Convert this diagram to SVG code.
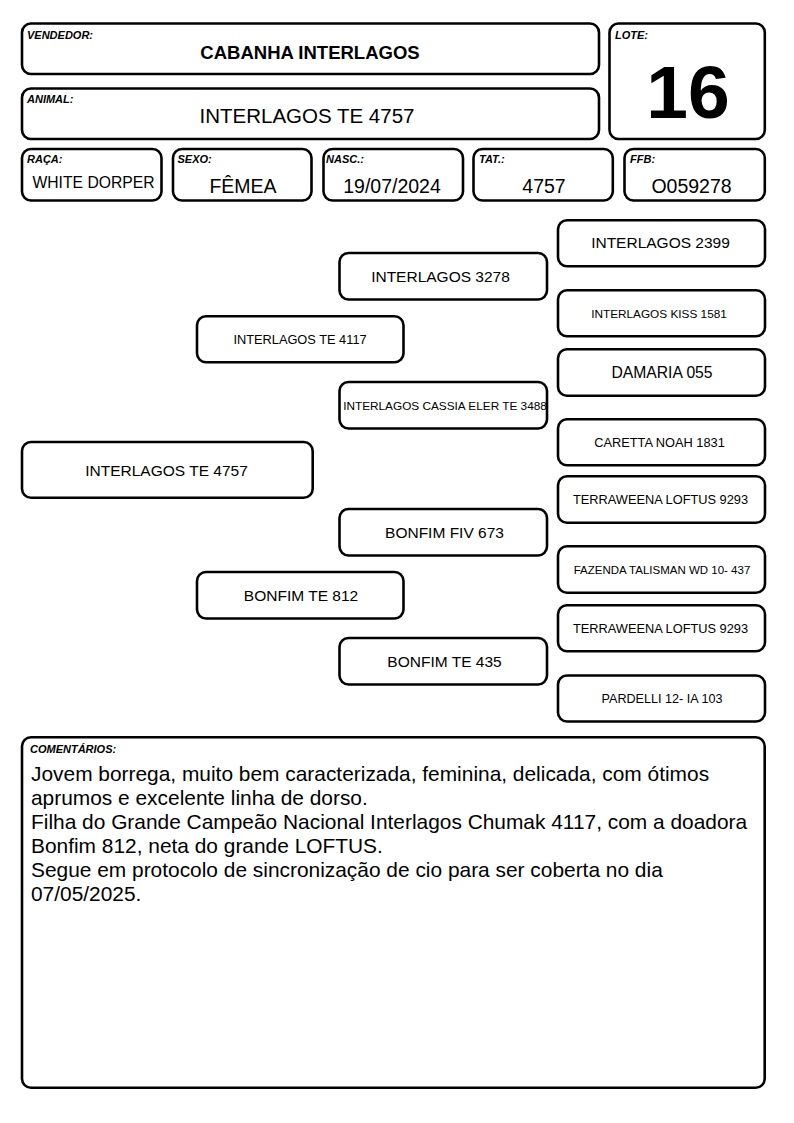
<svg xmlns="http://www.w3.org/2000/svg" width="794" height="1123" viewBox="0 0 794 1123">
<style>
rect.b{fill:#fff;stroke:#000;stroke-width:2.6}
text{font-family:"Liberation Sans",Arial,sans-serif;fill:#000}
.lbl{font-size:11px;font-weight:bold;font-style:italic}
.c{text-anchor:middle}
.val{font-size:19.5px}
.p16{font-size:15.5px}
.p13{font-size:12.8px}
.p12{font-size:11.8px}
.cm{font-size:20.9px}
</style>
<rect width="794" height="1123" fill="#fff"/>
<g id="vendedor"><rect class="b" x="22" y="23.5" width="577" height="50.5" rx="9"/><text class="lbl" x="27" y="39">VENDEDOR:</text><text class="c" x="310" y="59" style="font-size:18.5px;font-weight:bold">CABANHA INTERLAGOS</text></g>
<g id="animal"><rect class="b" x="22" y="88.5" width="577" height="50.5" rx="9"/><text class="lbl" x="27" y="102.5">ANIMAL:</text><text class="c" x="307" y="123" style="font-size:20.5px">INTERLAGOS TE 4757</text></g>
<g id="lote"><rect class="b" x="609.5" y="23.5" width="155.3" height="115.5" rx="9"/><text class="lbl" x="615" y="39">LOTE:</text><text class="c" x="688" y="118" style="font-size:75px;font-weight:bold">16</text></g>
<g id="raca"><rect class="b" x="22" y="149" width="139.5" height="51.5" rx="9"/><text class="lbl" x="27" y="162.5">RAÇA:</text><text class="c" x="93.5" y="188" style="font-size:15.7px">WHITE DORPER</text></g>
<g id="sexo"><rect class="b" x="173" y="149" width="138.5" height="51.5" rx="9"/><text class="lbl" x="177.5" y="162.5">SEXO:</text><text class="c val" x="243" y="192.5">FÊMEA</text></g>
<g id="nasc"><rect class="b" x="323.5" y="149" width="139.5" height="51.5" rx="9"/><text class="lbl" x="326" y="162.5">NASC.:</text><text class="c val" x="392" y="192.5">19/07/2024</text></g>
<g id="tat"><rect class="b" x="473.5" y="149" width="139.3" height="51.5" rx="9"/><text class="lbl" x="479" y="162.5">TAT.:</text><text class="c val" x="544" y="192.5">4757</text></g>
<g id="ffb"><rect class="b" x="624.5" y="149" width="140.3" height="51.5" rx="9"/><text class="lbl" x="630" y="162.5">FFB:</text><text class="c val" x="691.5" y="192.5">O059278</text></g>
<g id="connectors"/>
<g id="p0"><rect class="b" x="22" y="442" width="290.7" height="55.7" rx="9"/><text class="c p16" x="166.5" y="475.5">INTERLAGOS TE 4757</text></g>
<g id="p1a"><rect class="b" x="197" y="316.3" width="206.5" height="46" rx="9"/><text class="c p13" x="300" y="344">INTERLAGOS TE 4117</text></g>
<g id="p1b"><rect class="b" x="197" y="572" width="206.5" height="46.5" rx="9"/><text class="c p16" x="301" y="600.5">BONFIM TE 812</text></g>
<g id="p2a"><rect class="b" x="339.5" y="253" width="207.5" height="46.5" rx="9"/><text class="c p16" x="440.5" y="281.5">INTERLAGOS 3278</text></g>
<g id="p2b"><rect class="b" x="339.5" y="382" width="207.5" height="46.5" rx="9"/><text class="c p12" x="445" y="409.5">INTERLAGOS CASSIA ELER TE 3488</text></g>
<g id="p2c"><rect class="b" x="339.5" y="509" width="207.5" height="46.5" rx="9"/><text class="c p16" x="444.5" y="537.5">BONFIM FIV 673</text></g>
<g id="p2d"><rect class="b" x="339.5" y="638" width="207.5" height="46.5" rx="9"/><text class="c p16" x="444.5" y="666.5">BONFIM TE 435</text></g>
<g id="p3a"><rect class="b" x="558" y="220.3" width="207" height="46" rx="9"/><text class="c p16" x="660.5" y="248.3">INTERLAGOS 2399</text></g>
<g id="p3b"><rect class="b" x="558" y="290.3" width="207" height="46" rx="9"/><text class="c p12" x="659" y="317.5">INTERLAGOS KISS 1581</text></g>
<g id="p3c"><rect class="b" x="558" y="349.3" width="207" height="46.5" rx="9"/><text class="c" x="662" y="377.5" style="font-size:15.7px">DAMARIA 055</text></g>
<g id="p3d"><rect class="b" x="558" y="419.3" width="207" height="46" rx="9"/><text class="c p13" x="659.5" y="446.8">CARETTA NOAH 1831</text></g>
<g id="p3e"><rect class="b" x="558" y="476.3" width="207" height="46.5" rx="9"/><text class="c p13" x="660.5" y="504">TERRAWEENA LOFTUS 9293</text></g>
<g id="p3f"><rect class="b" x="558" y="546.3" width="207" height="46.5" rx="9"/><text class="c" x="662" y="573.5" style="font-size:11.5px">FAZENDA TALISMAN WD 10- 437</text></g>
<g id="p3g"><rect class="b" x="558" y="605.3" width="207" height="46" rx="9"/><text class="c p13" x="660.5" y="633">TERRAWEENA LOFTUS 9293</text></g>
<g id="p3h"><rect class="b" x="558" y="675.5" width="207" height="46" rx="9"/><text class="c" x="662" y="703" style="font-size:12.6px">PARDELLI 12- IA 103</text></g>
<g id="comentarios"><rect class="b" x="22" y="737.3" width="742.7" height="350.5" rx="9"/><text class="lbl" x="30" y="753">COMENTÁRIOS:</text>
<text class="cm" x="31" y="781">Jovem borrega, muito bem caracterizada, feminina, delicada, com ótimos</text>
<text class="cm" x="31" y="805">aprumos e excelente linha de dorso.</text>
<text class="cm" x="31" y="829">Filha do Grande Campeão Nacional Interlagos Chumak 4117, com a doadora</text>
<text class="cm" x="31" y="853">Bonfim 812, neta do grande LOFTUS.</text>
<text class="cm" x="31" y="877">Segue em protocolo de sincronização de cio para ser coberta no dia</text>
<text class="cm" x="31" y="901">07/05/2025.</text>
</g>
</svg>
